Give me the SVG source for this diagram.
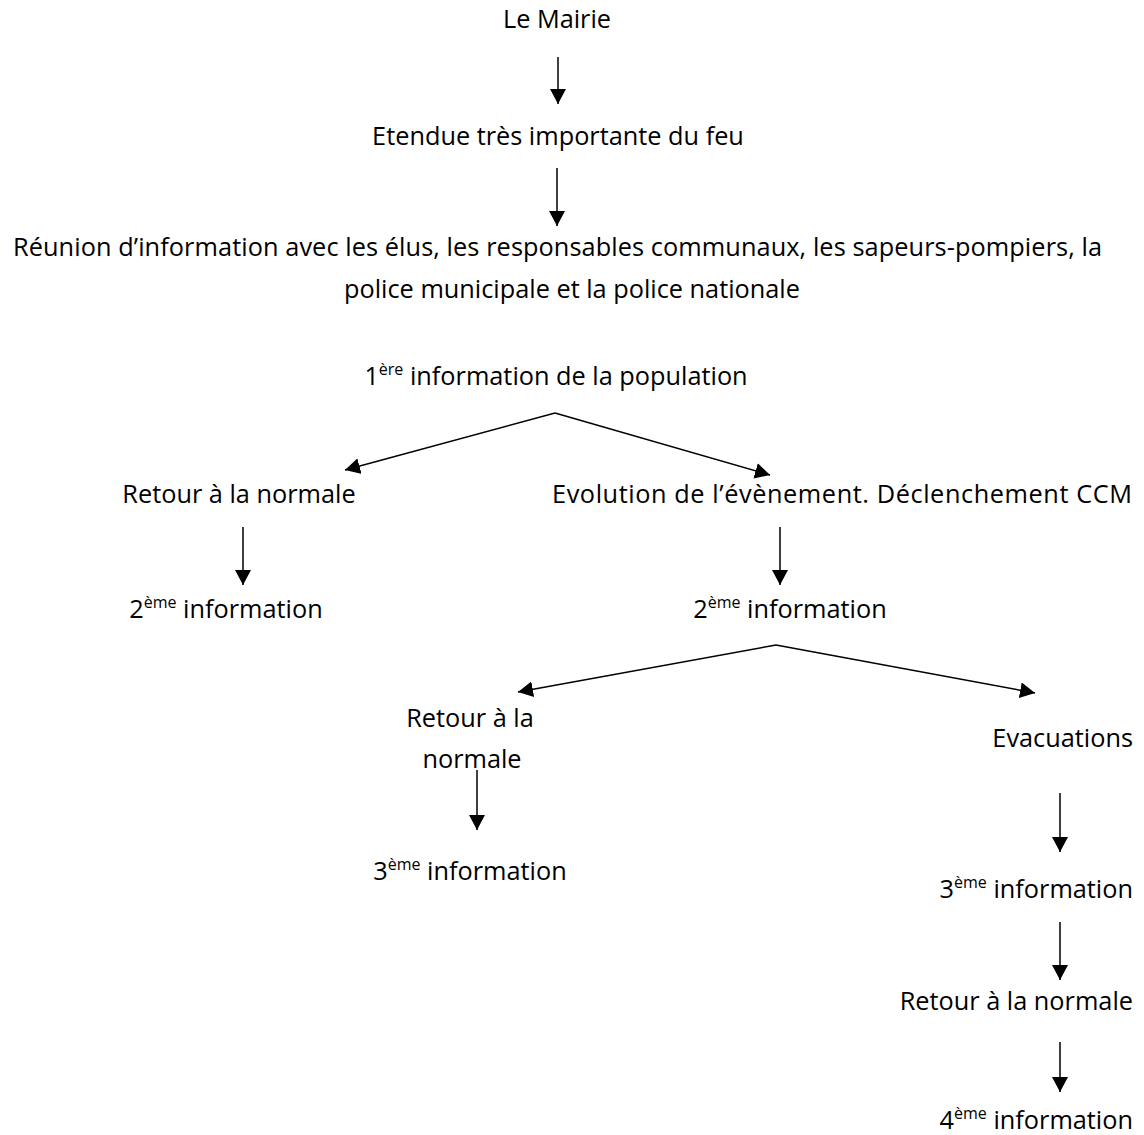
<svg xmlns="http://www.w3.org/2000/svg" width="1144" height="1135" viewBox="0 0 1144 1135">
<defs>
<style>
text{font-family:"Open Sans","Noto Sans","Liberation Sans",sans-serif;font-size:25.3px;fill:#000}
.c{text-anchor:middle}
.e{text-anchor:end}
.sup{font-size:16px}
.ln{stroke:#000;stroke-width:1.5;fill:none;marker-end:url(#ah)}
</style>
<marker id="ah" markerUnits="userSpaceOnUse" markerWidth="16" markerHeight="16" refX="15" refY="8" orient="auto">
<path d="M0,0 L15,8 L0,16 Z" fill="#000"/>
</marker>
</defs>
<rect width="1144" height="1135" fill="#fff"/>
<g id="connectors">
<line class="ln" x1="558" y1="57" x2="558" y2="104"/>
<line class="ln" x1="557" y1="168" x2="557" y2="226"/>
<line class="ln" x1="555" y1="413" x2="345" y2="470"/>
<line class="ln" x1="555" y1="413" x2="770" y2="475"/>
<line class="ln" x1="243" y1="527" x2="243" y2="585"/>
<line class="ln" x1="780" y1="527" x2="780" y2="585"/>
<line class="ln" x1="776" y1="645" x2="518" y2="692"/>
<line class="ln" x1="776" y1="645" x2="1035" y2="693"/>
<line class="ln" x1="477" y1="770" x2="477" y2="830"/>
<line class="ln" x1="1060" y1="793" x2="1060" y2="852"/>
<line class="ln" x1="1060" y1="922" x2="1060" y2="980"/>
<line class="ln" x1="1060" y1="1042" x2="1060" y2="1092"/>
</g>
<g id="n1"><text class="c" x="557" y="28">Le Mairie</text></g>
<g id="n2"><text class="c" x="558" y="145">Etendue très importante du feu</text></g>
<g id="n3"><text x="13" y="256" textLength="1089" lengthAdjust="spacing">Réunion d’information avec les élus, les responsables communaux, les sapeurs-pompiers, la</text><text class="c" x="572" y="298">police municipale et la police nationale</text></g>
<g id="n4"><text class="c" x="556" y="385">1<tspan class="sup" dy="-10">ère</tspan><tspan dy="10"> information de la population</tspan></text></g>
<g id="n5"><text class="c" x="239" y="503">Retour à la normale</text></g>
<g id="n6"><text x="552" y="503" textLength="580" lengthAdjust="spacing">Evolution de l’évènement. Déclenchement CCM</text></g>
<g id="n7"><text class="c" x="226" y="618">2<tspan class="sup" dy="-10">ème</tspan><tspan dy="10"> information</tspan></text></g>
<g id="n8"><text class="c" x="790" y="618">2<tspan class="sup" dy="-10">ème</tspan><tspan dy="10"> information</tspan></text></g>
<g id="n9"><text class="c" x="470" y="727">Retour à la</text><text class="c" x="472" y="768">normale</text></g>
<g id="n10"><text class="e" x="1133" y="747">Evacuations</text></g>
<g id="n11"><text class="c" x="470" y="880">3<tspan class="sup" dy="-10">ème</tspan><tspan dy="10"> information</tspan></text></g>
<g id="n12"><text class="e" x="1133" y="898">3<tspan class="sup" dy="-10">ème</tspan><tspan dy="10"> information</tspan></text></g>
<g id="n13"><text class="e" x="1133" y="1010">Retour à la normale</text></g>
<g id="n14"><text class="e" x="1133" y="1129">4<tspan class="sup" dy="-10">ème</tspan><tspan dy="10"> information</tspan></text></g>
</svg>
